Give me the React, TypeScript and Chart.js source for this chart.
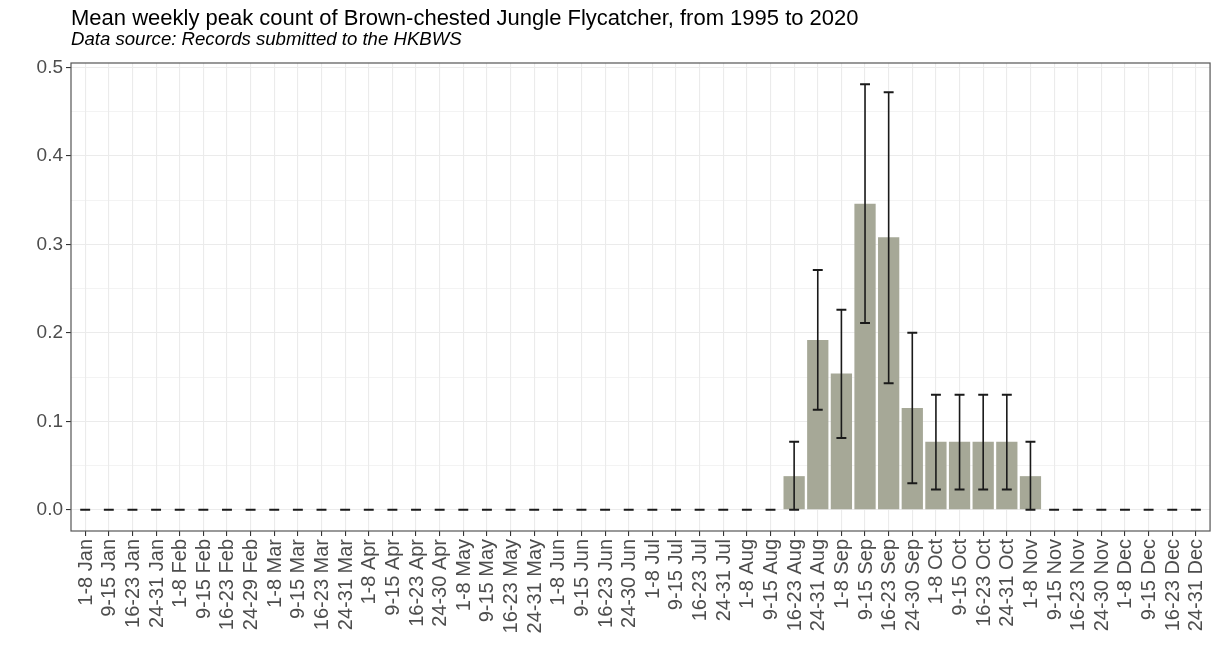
import React, { useEffect, useRef } from 'react';
import { Chart, registerables } from 'chart.js';
Chart.register(...registerables);

const TITLE = 'Mean weekly peak count of Brown-chested Jungle Flycatcher, from 1995 to 2020';
const SUBTITLE = 'Data source: Records submitted to the HKBWS';

const weeks = [
  '1-8 Jan', '9-15 Jan', '16-23 Jan', '24-31 Jan',
  '1-8 Feb', '9-15 Feb', '16-23 Feb', '24-29 Feb',
  '1-8 Mar', '9-15 Mar', '16-23 Mar', '24-31 Mar',
  '1-8 Apr', '9-15 Apr', '16-23 Apr', '24-30 Apr',
  '1-8 May', '9-15 May', '16-23 May', '24-31 May',
  '1-8 Jun', '9-15 Jun', '16-23 Jun', '24-30 Jun',
  '1-8 Jul', '9-15 Jul', '16-23 Jul', '24-31 Jul',
  '1-8 Aug', '9-15 Aug', '16-23 Aug', '24-31 Aug',
  '1-8 Sep', '9-15 Sep', '16-23 Sep', '24-30 Sep',
  '1-8 Oct', '9-15 Oct', '16-23 Oct', '24-31 Oct',
  '1-8 Nov', '9-15 Nov', '16-23 Nov', '24-30 Nov',
  '1-8 Dec', '9-15 Dec', '16-23 Dec', '24-31 Dec',
];

const meanCount = [
  0, 0, 0, 0, 0, 0, 0, 0, 0, 0, 0, 0,
  0, 0, 0, 0, 0, 0, 0, 0, 0, 0, 0, 0,
  0, 0, 0, 0, 0, 0, 0.038, 0.192,
  0.154, 0.346, 0.308, 0.115,
  0.077, 0.077, 0.077, 0.077,
  0.038, 0, 0, 0, 0, 0, 0, 0,
];

const lowerCount = [
  0, 0, 0, 0, 0, 0, 0, 0, 0, 0, 0, 0,
  0, 0, 0, 0, 0, 0, 0, 0, 0, 0, 0, 0,
  0, 0, 0, 0, 0, 0, 0, 0.113,
  0.081, 0.211, 0.143, 0.030,
  0.023, 0.023, 0.023, 0.023,
  0, 0, 0, 0, 0, 0, 0, 0,
];

const upperCount = [
  0, 0, 0, 0, 0, 0, 0, 0, 0, 0, 0, 0,
  0, 0, 0, 0, 0, 0, 0, 0, 0, 0, 0, 0,
  0, 0, 0, 0, 0, 0, 0.077, 0.271,
  0.226, 0.481, 0.472, 0.200,
  0.130, 0.130, 0.130, 0.130,
  0.077, 0, 0, 0, 0, 0, 0, 0,
];

const yTicks = [0, 0.05, 0.1, 0.15, 0.2, 0.25, 0.3, 0.35, 0.4, 0.45, 0.5];

const FONT = "'Liberation Sans', Arial, Helvetica, sans-serif";

const isMajorY = (c: any) => c.tick && Math.abs(c.tick.value * 10 - Math.round(c.tick.value * 10)) < 1e-6 && c.tick.value >= 0;

const errorBarPlugin = {
  id: 'errorBars',
  afterDatasetsDraw(chart: any) {
    const xs = chart.scales.x;
    const ys = chart.scales.y;
    const ctx = chart.ctx;
    const step = xs.getPixelForValue(1) - xs.getPixelForValue(0);
    const half = step * 0.21;
    ctx.save();
    ctx.strokeStyle = '#1a1a1a';
    for (let i = 0; i < weeks.length; i++) {
      const x = xs.getPixelForValue(i);
      const yl = ys.getPixelForValue(lowerCount[i]);
      const yu = ys.getPixelForValue(upperCount[i]);
      ctx.lineWidth = 1.6;
      ctx.beginPath();
      ctx.moveTo(x, yl);
      ctx.lineTo(x, yu);
      ctx.stroke();
      ctx.lineWidth = 2;
      ctx.beginPath();
      ctx.moveTo(x - half, yl);
      ctx.lineTo(x + half, yl);
      ctx.moveTo(x - half, yu);
      ctx.lineTo(x + half, yu);
      ctx.stroke();
    }
    ctx.restore();
  },
  afterDraw(chart: any) {
    const { ctx, chartArea } = chart;
    ctx.save();
    ctx.strokeStyle = '#555555';
    ctx.lineWidth = 1.2;
    ctx.strokeRect(chartArea.left, chartArea.top, chartArea.right - chartArea.left, chartArea.bottom - chartArea.top);
    ctx.fillStyle = '#000000';
    ctx.textAlign = 'left';
    ctx.textBaseline = 'alphabetic';
    ctx.font = `22px ${FONT}`;
    ctx.fillText(TITLE, chartArea.left, 25);
    ctx.font = `italic 18.6px ${FONT}`;
    ctx.fillText(SUBTITLE, chartArea.left, 45);
    ctx.restore();
  },
};

export default function App() {
  const ref = useRef<HTMLCanvasElement | null>(null);
  useEffect(() => {
    if (!ref.current) return;
    const chart = new Chart(ref.current, {
      type: 'bar',
      data: {
        datasets: [
          {
            data: meanCount.map((v, i) => ({ x: i, y: v })),
            backgroundColor: '#a6a897',
            borderWidth: 0,
            barPercentage: 0.9,
            categoryPercentage: 1,
          },
        ],
      },
      options: {
        animation: false,
        responsive: true,
        maintainAspectRatio: false,
        layout: { padding: { top: 63, right: 10, left: 0, bottom: 0 } },
        plugins: { legend: { display: false }, tooltip: { enabled: false }, title: { display: false } },
        scales: {
          x: {
            type: 'linear',
            min: -0.6,
            max: weeks.length - 1 + 0.6,
            offset: false,
            afterBuildTicks: (scale: any) => {
              scale.ticks = weeks.map((_, i) => ({ value: i }));
            },
            afterFit: (scale: any) => {
              scale.height = 136;
            },
            ticks: {
              autoSkip: false,
              minRotation: 90,
              maxRotation: 90,
              padding: 3,
              labelOffset: 1,
              color: '#4d4d4d',
              font: { family: FONT, size: 20 },
              callback: (v: any) => {
                const n = Number(v);
                if (Math.abs(n - Math.round(n)) > 1e-6) return '';
                return weeks[Math.round(n)] ?? '';
              },
            },
            grid: {
              offset: false,
              color: '#ebebeb',
              lineWidth: 1.1,
              tickColor: '#333333',
              tickLength: 5,
              drawTicks: true,
            },
            border: { display: false },
          },
          y: {
            type: 'linear',
            min: -0.024,
            max: 0.505,
            afterBuildTicks: (scale: any) => {
              scale.ticks = yTicks.map((v) => ({ value: v }));
            },
            afterFit: (scale: any) => {
              scale.width = 71;
            },
            ticks: {
              padding: 3,
              color: '#4d4d4d',
              font: { family: FONT, size: 19 },
              callback: (v: any) => {
                const n = Number(v);
                return Math.abs(n * 10 - Math.round(n * 10)) < 1e-6 ? n.toFixed(1) : '';
              },
            },
            grid: {
              offset: false,
              color: '#ebebeb',
              lineWidth: (c: any) => (isMajorY(c) ? 1.1 : 0.6),
              tickColor: (c: any) => (isMajorY(c) ? '#333333' : 'rgba(0,0,0,0)'),
              tickLength: 5,
            },
            border: { display: false },
          },
        },
      },
      plugins: [errorBarPlugin],
    } as any);
    return () => chart.destroy();
  }, []);
  return (
    <div style={{ position: 'absolute', left: 0, top: 0, width: 1223, height: 667, background: '#ffffff' }}>
      <canvas ref={ref} />
    </div>
  );
}
